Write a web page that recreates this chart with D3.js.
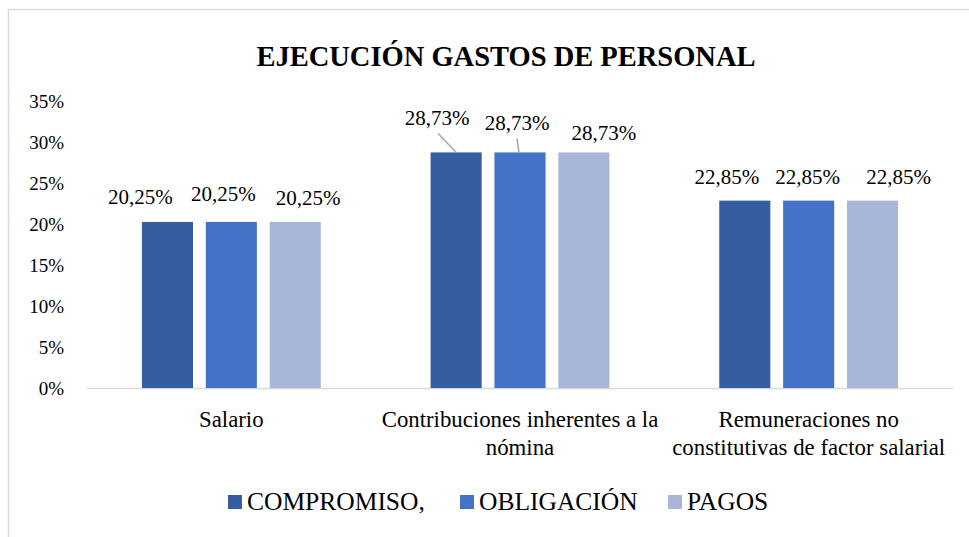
<!DOCTYPE html>
<html>
<head>
<meta charset="utf-8">
<script src="https://cdn.jsdelivr.net/npm/d3@7"></script>
<style>
  body { margin: 0; background: #fff; }
</style>
</head>
<body>
<div id="chart"></div>
<script>
// data
const categories = ["Salario", "Contribuciones inherentes a la nómina", "Remuneraciones no constitutivas de factor salarial"];
const categoryLines = [["Salario"], ["Contribuciones inherentes a la", "nómina"], ["Remuneraciones no", "constitutivas de factor salarial"]];
const seriesNames = ["COMPROMISO,", "OBLIGACIÓN", "PAGOS"];
const compromiso = [20.25, 28.73, 22.85];
const obligacion = [20.25, 28.73, 22.85];
const pagos = [20.25, 28.73, 22.85];
const yTicks = [0, 5, 10, 15, 20, 25, 30, 35];
const colors = ["#355ea2", "#4472c6", "#a8b6da"];

const width = 969, height = 537;
const margin = {top: 101, right: 16, bottom: 149, left: 87};

const svg = d3.select("#chart").append("svg")
  .attr("width", width)
  .attr("height", height)
  .attr("font-family", "'Liberation Serif', 'Times New Roman', serif");

// outer frame (only top and left edges visible in the shot)
svg.append("path")
  .attr("d", "M8.5,537 L8.5,9.5 L969,9.5")
  .attr("fill", "none")
  .attr("stroke", "#d9d9d9")
  .attr("stroke-width", 1.5);

svg.append("text")
  .attr("x", 506)
  .attr("y", 66)
  .attr("text-anchor", "middle")
  .attr("font-weight", "bold")
  .attr("font-size", 28.5)
  .text("EJECUCIÓN GASTOS DE PERSONAL");

const x = d3.scaleBand()
  .domain(categories)
  .range([margin.left, width - margin.right]);

const xInner = d3.scaleBand()
  .domain(seriesNames)
  .range([0, x.bandwidth()])
  .paddingInner(0.2)
  .paddingOuter(0.86);

const y = d3.scaleLinear()
  .domain([0, 35])
  .range([height - margin.bottom, margin.top]);

// y axis labels
svg.append("g")
  .selectAll("text")
  .data(yTicks)
  .join("text")
  .attr("x", 64)
  .attr("y", d => y(d))
  .attr("dy", "0.35em")
  .attr("text-anchor", "end")
  .attr("font-size", 19)
  .text(d => d + "%");

// baseline
svg.append("line")
  .attr("x1", margin.left)
  .attr("x2", width - margin.right)
  .attr("y1", y(0) + 0.5)
  .attr("y2", y(0) + 0.5)
  .attr("stroke", "#d9d9d9")
  .attr("stroke-width", 1.5);

const series = [compromiso, obligacion, pagos];
const rows = [];
series.forEach((vals, s) => {
  vals.forEach((v, c) => rows.push({s: s, c: c, v: v}));
});

svg.append("g")
  .selectAll("rect")
  .data(rows)
  .join("rect")
  .attr("x", d => x(categories[d.c]) + xInner(seriesNames[d.s]))
  .attr("y", d => y(d.v))
  .attr("width", xInner.bandwidth())
  .attr("height", d => y(0) - y(d.v))
  .attr("fill", d => colors[d.s]);

// data label offsets from the bar top centre (Excel spread them apart)
const labelShift = {
  "0-0": [-27, -25], "0-1": [-8, -28], "0-2": [13, -24],
  "1-0": [-19, -35], "1-1": [-3, -30], "1-2": [20, -20],
  "2-0": [-18, -24], "2-1": [-1, -24], "2-2": [26, -24]
};
const fmt = v => d3.format(".2f")(v).replace(".", ",") + "%";

const labels = svg.append("g");
rows.forEach(d => {
  const cx = x(categories[d.c]) + xInner(seriesNames[d.s]) + xInner.bandwidth() / 2;
  const top = y(d.v);
  const sh = labelShift[d.c + "-" + d.s];
  labels.append("text")
    .attr("x", cx + sh[0])
    .attr("y", top + sh[1])
    .attr("dy", "0.35em")
    .attr("text-anchor", "middle")
    .attr("font-size", 21)
    .text(fmt(d.v));
  if (d.c === 1 && d.s < 2) {
    labels.append("line")
      .attr("x1", d.s === 0 ? cx - 18 : cx - 3)
      .attr("y1", top + (d.s === 0 ? -19 : -14))
      .attr("x2", d.s === 0 ? cx : cx - 1)
      .attr("y2", top)
      .attr("stroke", "#a6a6a6")
      .attr("stroke-width", 1.5);
  }
});

// category labels
const catG = svg.append("g");
categoryLines.forEach((lines, i) => {
  const t = catG.append("text")
    .attr("x", x(categories[i]) + x.bandwidth() / 2)
    .attr("y", 427)
    .attr("text-anchor", "middle")
    .attr("font-size", 22.8);
  lines.forEach((ln, j) => {
    t.append("tspan")
      .attr("x", x(categories[i]) + x.bandwidth() / 2)
      .attr("dy", j === 0 ? 0 : 28)
      .text(ln);
  });
});

// legend
const legendX = [228, 460, 668];
const legend = svg.append("g");
seriesNames.forEach((name, i) => {
  legend.append("rect")
    .attr("x", legendX[i])
    .attr("y", 495)
    .attr("width", 14)
    .attr("height", 14)
    .attr("fill", colors[i]);
  legend.append("text")
    .attr("x", legendX[i] + 19)
    .attr("y", 510)
    .attr("font-size", 25.5)
    .text(name);
});
</script>
</body>
</html>
